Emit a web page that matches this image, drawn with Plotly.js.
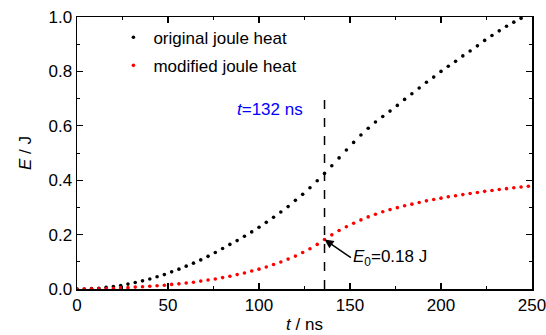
<!DOCTYPE html>
<html>
<head>
<meta charset="utf-8">
<script src="https://cdn.plot.ly/plotly-3.0.1.min.js"></script>
<style>html,body{margin:0;padding:0;background:#fff;}#chart{width:546px;height:335px;}</style>
</head>
<body>
<div id="chart"></div>
<script>
// time samples (ns)
const timeNs = [0,4,8,12,16,20,24,28,32,36,40,44,48,52,56,60,64,68,72,76,80,84,88,92,96,100,104,108,112,116,120,124,128,132,136,140,144,148,152,156,160,164,168,172,176,180,184,188,192,196,200,204,208,212,216,220,224,228,232,236,240,244,248];
// original joule heat (J)
const originalHeat = [0.000,0.000,0.0015,0.003,0.006,0.009,0.013,0.018,0.024,0.030,0.037,0.045,0.053,0.063,0.073,0.084,0.095,0.107,0.120,0.134,0.149,0.164,0.178,0.194,0.210,0.227,0.245,0.264,0.283,0.303,0.326,0.348,0.372,0.398,0.425,0.453,0.482,0.511,0.539,0.566,0.591,0.614,0.634,0.654,0.675,0.697,0.718,0.739,0.760,0.779,0.800,0.819,0.837,0.857,0.875,0.894,0.914,0.932,0.949,0.966,0.981,0.995,1.010];
// modified joule heat (J)
const modifiedHeat = [0.000,0.000,0.001,0.001,0.002,0.003,0.004,0.005,0.007,0.008,0.010,0.012,0.014,0.017,0.019,0.022,0.025,0.029,0.033,0.037,0.042,0.047,0.053,0.059,0.066,0.073,0.081,0.090,0.099,0.110,0.121,0.134,0.148,0.164,0.182,0.199,0.215,0.229,0.242,0.254,0.265,0.275,0.284,0.292,0.299,0.306,0.312,0.318,0.324,0.329,0.334,0.339,0.343,0.347,0.351,0.355,0.359,0.362,0.366,0.369,0.372,0.375,0.378];
const seriesNames = ["original joule heat", "modified joule heat"];
const markTime = 136;      // dashed marker time (ns)
const markTop = 0.70;      // top of dashed marker (J)
const e0Value = 0.182;     // E0 point
const xTicks = [0,50,100,150,200,250];
const yTicks = [0.0,0.2,0.4,0.6,0.8,1.0];
const yTickLabels = ["0.0","0.2","0.4","0.6","0.8","1.0"];

const font = {family: "Liberation Sans, Arial, sans-serif", size: 17, color: "#000"};

const traces = [
  {x: timeNs, y: originalHeat, name: seriesNames[0], mode: "markers", type: "scatter",
   marker: {color: "#000", size: 3.6}, legendgroup: "a"},
  {x: timeNs, y: modifiedHeat, name: seriesNames[1], mode: "markers", type: "scatter",
   marker: {color: "#ff0000", size: 3.6}, legendgroup: "b"}
];

const axisCommon = {
  showline: true, linecolor: "#000", linewidth: 1.5, mirror: "ticks",
  ticks: "inside", ticklen: 6, tickwidth: 1.2, tickcolor: "#000",
  showgrid: false, zeroline: false, tickfont: font, ticklabeloverflow: "allow"
};

const layout = {
  width: 546, height: 335,
  margin: {l: 77, r: 14, t: 17, b: 46},
  paper_bgcolor: "#fff", plot_bgcolor: "#fff",
  font: font,
  showlegend: true,
  legend: {x: 0.08, y: 0.99, xanchor: "left", yanchor: "top", bgcolor: "rgba(0,0,0,0)",
           font: font, tracegroupgap: 3, itemsizing: "trace"},
  xaxis: Object.assign({}, axisCommon, {
    range: [0, 250], tickvals: xTicks,
    minor: {dtick: 25, ticks: "inside", ticklen: 3, tickwidth: 1, tickcolor: "#000", showgrid: false},
    title: {text: "<i>t</i> / ns", font: font, standoff: 4}
  }),
  yaxis: Object.assign({}, axisCommon, {
    range: [0, 1.0], tickvals: yTicks, ticktext: yTickLabels,
    minor: {dtick: 0.1, ticks: "inside", ticklen: 3, tickwidth: 1, tickcolor: "#000", showgrid: false},
    title: {text: "<i>E</i> / J", font: font, standoff: 12}
  }),
  shapes: [
    {type: "line", xref: "x", yref: "y", x0: markTime, x1: markTime, y0: 0, y1: markTop,
     line: {color: "#000", width: 1.5, dash: "dash"}}
  ],
  annotations: [
    {xref: "x", yref: "y", x: markTime - 11, y: 0.66, xanchor: "right", yanchor: "middle",
     text: "<i>t</i>=132 ns", showarrow: false, font: {family: font.family, size: 17, color: "#0000ff"}},
    {xref: "x", yref: "y", x: markTime, y: e0Value, axref: "x", ayref: "y", ax: 150.5, ay: 0.115,
     xanchor: "left", yanchor: "middle", text: "<i>E</i><sub>0</sub>=0.18 J", showarrow: true,
     arrowhead: 2, arrowsize: 1.2, arrowwidth: 1.5, arrowcolor: "#000", font: font}
  ]
};

Plotly.newPlot("chart", traces, layout, {staticPlot: true, displayModeBar: false});
</script>
</body>
</html>
